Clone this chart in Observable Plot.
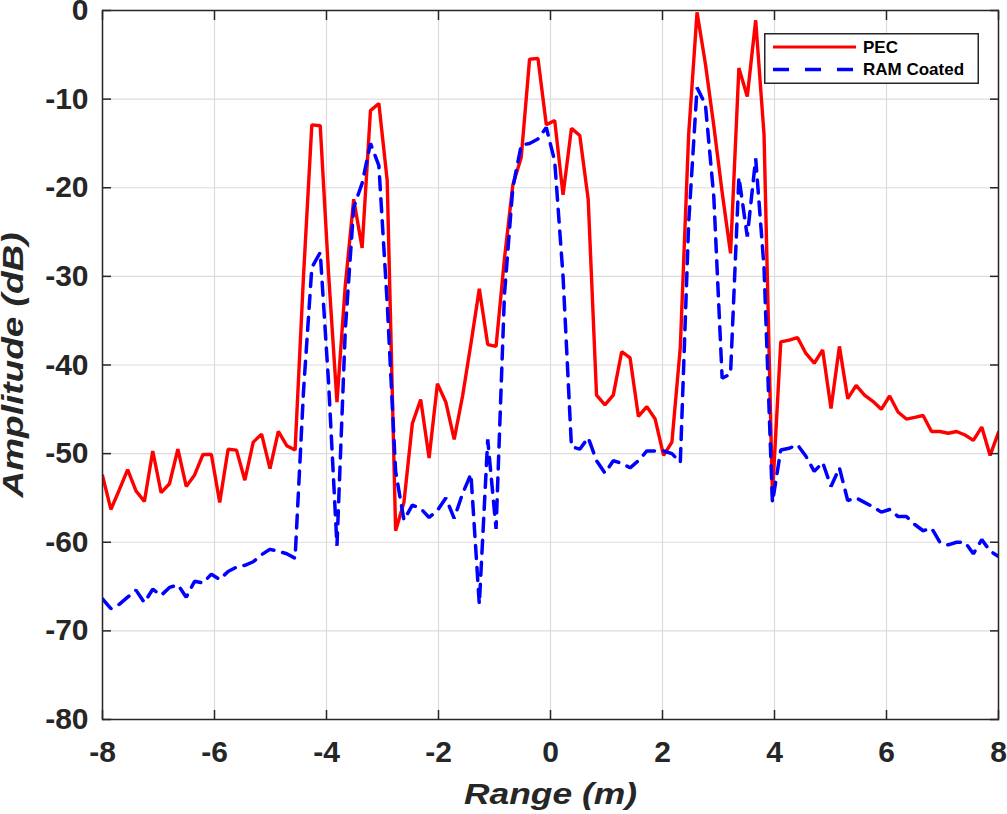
<!DOCTYPE html>
<html><head><meta charset="utf-8">
<script src="https://cdn.jsdelivr.net/npm/d3@7"></script>
<script src="https://cdn.jsdelivr.net/npm/@observablehq/plot@0.6"></script>
<style>
body{margin:0;background:#fff;}
#wrap{position:relative;width:1007px;height:814px;}
#legend{position:absolute;left:764px;top:33px;}
</style></head><body>
<div id="wrap"></div>
<script>
const rangeM = [-8.000,-7.850,-7.701,-7.551,-7.402,-7.252,-7.103,-6.953,-6.804,-6.654,-6.505,-6.355,-6.206,-6.056,-5.907,-5.757,-5.607,-5.458,-5.308,-5.159,-5.009,-4.860,-4.710,-4.561,-4.411,-4.262,-4.112,-3.963,-3.813,-3.664,-3.514,-3.364,-3.215,-3.065,-2.916,-2.766,-2.617,-2.467,-2.318,-2.168,-2.019,-1.869,-1.720,-1.570,-1.421,-1.271,-1.121,-0.972,-0.822,-0.673,-0.523,-0.374,-0.224,-0.075,0.075,0.224,0.374,0.523,0.673,0.822,0.972,1.121,1.271,1.421,1.570,1.720,1.869,2.019,2.168,2.318,2.467,2.617,2.766,2.916,3.065,3.215,3.364,3.514,3.664,3.813,3.963,4.112,4.262,4.411,4.561,4.710,4.860,5.009,5.159,5.308,5.458,5.607,5.757,5.907,6.056,6.206,6.355,6.505,6.654,6.804,6.953,7.103,7.252,7.402,7.551,7.701,7.850,8.000];
const pecDb = [-52.5,-56.3,-54.1,-51.8,-54.2,-55.4,-49.7,-54.4,-53.4,-49.5,-53.7,-52.4,-50.1,-50.1,-55.5,-49.5,-49.6,-53.0,-48.7,-47.8,-51.7,-47.5,-49.1,-49.6,-30.0,-12.9,-13.0,-29.7,-44.2,-31.0,-21.3,-26.8,-11.3,-10.5,-19.2,-58.7,-55.5,-46.6,-43.9,-50.5,-42.1,-44.2,-48.4,-43.5,-37.6,-31.4,-37.7,-37.9,-28.0,-19.7,-16.6,-5.5,-5.4,-12.9,-12.4,-20.8,-13.3,-14.1,-21.3,-43.4,-44.5,-43.4,-38.5,-39.2,-45.8,-44.7,-46.1,-50.2,-48.7,-38.0,-14.0,-0.2,-6.0,-13.0,-20.5,-27.4,-6.5,-9.7,-1.1,-14.0,-54.7,-37.4,-37.2,-36.9,-38.7,-39.8,-38.3,-44.9,-37.9,-43.8,-42.3,-43.4,-44.1,-45.0,-43.5,-45.3,-46.1,-45.9,-45.7,-47.5,-47.5,-47.7,-47.5,-47.9,-48.5,-47.0,-50.2,-47.6];
const ramDb = [-66.4,-67.5,-67.0,-66.2,-65.4,-66.8,-65.3,-66.0,-65.1,-64.8,-66.2,-64.4,-64.6,-63.6,-64.2,-63.3,-62.8,-62.6,-62.2,-61.4,-60.8,-61.0,-61.3,-61.8,-43.0,-29.0,-27.3,-42.0,-60.4,-36.0,-22.2,-19.5,-15.0,-17.5,-33.0,-52.0,-57.5,-55.8,-56.2,-57.2,-56.4,-55.0,-57.3,-54.5,-52.3,-67.0,-48.4,-58.5,-32.0,-20.0,-15.2,-15.0,-14.5,-13.2,-17.0,-30.0,-49.2,-49.5,-48.2,-50.8,-52.2,-50.8,-51.1,-51.6,-50.8,-49.7,-49.7,-49.7,-50.0,-51.0,-24.0,-8.7,-10.6,-21.0,-41.5,-41.0,-18.8,-25.5,-16.7,-29.0,-55.5,-49.6,-49.4,-49.0,-50.3,-52.0,-51.0,-53.7,-51.6,-55.3,-55.0,-55.5,-56.0,-56.6,-56.3,-57.1,-57.1,-58.0,-58.7,-58.4,-60.0,-60.3,-60.0,-60.0,-61.3,-59.7,-61.0,-61.6];
const xTicks = [-8,-6,-4,-2,0,2,4,6,8];
const yTicks = [-80,-70,-60,-50,-40,-30,-20,-10,0];
const seriesNames = ["PEC","RAM Coated"];
const seriesColors = ["#ff0000","#0000ff"];
const xTitle = "Range (m)";
const yTitle = "Amplitude (dB)";

const rows = rangeM.map((r,i)=>({range:r, pec:pecDb[i], ram:ramDb[i]}));
const font = "'Liberation Sans', Arial, Helvetica, sans-serif";
const ink = "#262626";

const chart = Plot.plot({
  width:1007, height:814,
  marginLeft:102, marginRight:9, marginTop:10, marginBottom:95,
  style:{fontFamily:font, fontSize:"30px", fontWeight:"bold", color:ink, background:"#fff", overflow:"visible"},
  x:{domain:[-8,8]},
  y:{domain:[-80,0]},
  marks:[
    Plot.gridX(xTicks,{stroke:"#dcdcdc", strokeOpacity:1, strokeWidth:1.2}),
    Plot.gridY(yTicks,{stroke:"#dcdcdc", strokeOpacity:1, strokeWidth:1.2}),
    Plot.line(rows,{x:"range", y:"pec", stroke:seriesColors[0], strokeWidth:3.4, strokeLinejoin:"miter", clip:true}),
    Plot.line(rows,{x:"range", y:"ram", stroke:seriesColors[1], strokeWidth:3.5, strokeDasharray:"13,9", strokeLinejoin:"miter", clip:true}),
    Plot.frame({stroke:ink, strokeWidth:1.5}),
    Plot.axisX(xTicks,{anchor:"bottom", tickSize:-9, tickPadding:30, label:null, tickFormat:d=>String(d), fontSize:30, fontWeight:"bold", stroke:ink, fill:ink, strokeWidth:1.5}),
    Plot.axisX(xTicks,{anchor:"top", tickSize:-9, label:null, tickFormat:()=>"", stroke:ink, strokeWidth:1.5}),
    Plot.axisY(yTicks,{anchor:"left", tickSize:-9, tickPadding:23, label:null, tickFormat:d=>String(d), fontSize:30, fontWeight:"bold", stroke:ink, fill:ink, strokeWidth:1.5}),
    Plot.axisY(yTicks,{anchor:"right", tickSize:-9, label:null, tickFormat:()=>"", stroke:ink, strokeWidth:1.5}),
    Plot.text([xTitle],{text:d=>d, frameAnchor:"bottom", dy:75, lineAnchor:"middle", textAnchor:"middle", fontSize:30, fontStyle:"italic", fontWeight:"bold", fill:ink}),
    Plot.text([yTitle],{text:d=>d, frameAnchor:"left", dx:-89, rotate:-90, lineAnchor:"middle", textAnchor:"middle", fontSize:30, fontStyle:"italic", fontWeight:"bold", fill:ink})
  ]
});
const wrap = document.getElementById("wrap");
wrap.appendChild(chart);

// stretch titles horizontally to match the reference's wide italic face
d3.select(chart).selectAll("text").each(function(){
  const t = this.textContent;
  if (t === xTitle) d3.select(this).attr("textLength",173).attr("lengthAdjust","spacingAndGlyphs");
  if (t === yTitle) d3.select(this).attr("textLength",265).attr("lengthAdjust","spacingAndGlyphs");
});

// legend
const lg = d3.select(wrap).append("svg").attr("id","legend").attr("width",215).attr("height",51);
lg.append("rect").attr("x",0.75).attr("y",0.75).attr("width",213.5).attr("height",49.5)
  .attr("fill","#fff").attr("stroke",ink).attr("stroke-width",1.5);
seriesNames.forEach((name,i)=>{
  const yy = 14 + i*22.5;
  lg.append("line").attr("x1",9).attr("x2",92).attr("y1",yy).attr("y2",yy)
    .attr("stroke",seriesColors[i]).attr("stroke-width", i===0?3.2:3.5)
    .attr("stroke-dasharray", i===0?null:"16,16");
  lg.append("text").attr("x",99).attr("y",yy).attr("dy","0.35em")
    .attr("font-family",font).attr("font-size",17).attr("font-weight","bold").attr("fill","#000")
    .text(name);
});
</script>
</body></html>
